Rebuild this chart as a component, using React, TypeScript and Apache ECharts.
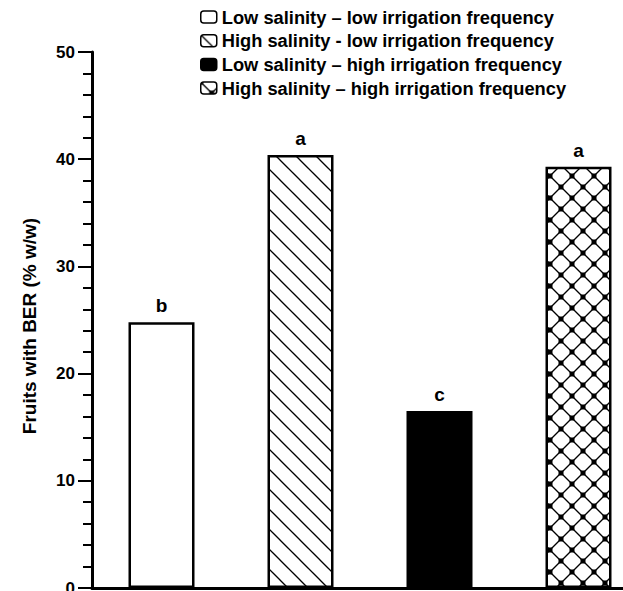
import React, { useEffect, useRef } from "react";
import * as echarts from "echarts";

const categories = ["LS-LI", "HS-LI", "LS-HI", "HS-HI"];
const seriesNames = [
  "Low salinity – low irrigation frequency",
  "High salinity - low irrigation frequency",
  "Low salinity – high irrigation frequency",
  "High salinity – high irrigation frequency",
];
const values = [24.8, 40.4, 16.5, 39.3];
const letters = ["b", "a", "c", "a"];
const yTicks = [0, 10, 20, 30, 40, 50];

const FONT = '"Liberation Sans", Arial, sans-serif';

function makeTile(kind: string, s: number): HTMLCanvasElement {
  const c = document.createElement("canvas");
  c.width = s;
  c.height = s;
  const ctx = c.getContext("2d")!;
  ctx.fillStyle = "#fff";
  ctx.fillRect(0, 0, s, s);
  ctx.strokeStyle = "#000";
  ctx.lineWidth = 1.3;
  const line = (x1: number, y1: number, x2: number, y2: number) => {
    ctx.beginPath();
    ctx.moveTo(x1, y1);
    ctx.lineTo(x2, y2);
    ctx.stroke();
  };
  const h = s / 2;
  line(-h, -h, s + h, s + h);
  line(h, -h, s + h, h);
  line(-h, h, h, s + h);
  if (kind === "lattice") {
    line(s + h, -h, -h, s + h);
    line(h, -h, -h, h);
    line(s + h, h, h, s + h);
    ctx.fillStyle = "#000";
    const d = 5;
    ctx.fillRect(h - d / 2, h - d / 2, d, d);
    for (const [cx, cy] of [[0, 0], [s, 0], [0, s], [s, s]]) {
      ctx.fillRect(cx - d / 2, cy - d / 2, d, d);
    }
  }
  return c;
}

export default function App() {
  const ref = useRef<HTMLDivElement>(null);
  useEffect(() => {
    if (!ref.current) return;
    const chart = echarts.init(ref.current, undefined, { renderer: "svg" });
    const pat = (kind: string, s: number) => ({
      image: makeTile(kind, s),
      imageWidth: s,
      imageHeight: s,
      repeat: "repeat",
    });
    const fills: any[] = ["#ffffff", pat("diag", 20), "#000000", pat("lattice", 22)];

    const series = seriesNames.map((name, i) => ({
      name,
      type: "bar",
      barWidth: 66,
      barGap: "-100%",
      data: values.map((v, j) => (j === i ? v : "-")),
      itemStyle: { color: fills[i], borderColor: "#000", borderWidth: 2.5 },
      label: {
        show: true,
        position: "top",
        distance: 7,
        formatter: () => letters[i],
        color: "#000",
        fontFamily: FONT,
        fontWeight: "bold",
        fontSize: 19,
      },
    }));

    chart.setOption({
      animation: false,
      backgroundColor: "#fff",
      grid: { left: 92, top: 52, right: 0, bottom: 3, outerBoundsMode: "none", containLabel: false },
      legend: {
        orient: "vertical",
        left: 195,
        top: 3,
        itemWidth: 16,
        itemHeight: 12,
        itemGap: 5.7,
        data: seriesNames,
        textStyle: {
          color: "#000",
          fontFamily: FONT,
          fontWeight: "bold",
          fontSize: 18.3,
          lineHeight: 18,
        },
        itemStyle: { borderColor: "#000", borderWidth: 1.5 },
      },
      xAxis: {
        type: "category",
        data: categories,
        axisLine: { lineStyle: { color: "#000", width: 3 } },
        axisTick: { show: false },
        axisLabel: { show: false },
      },
      yAxis: {
        type: "value",
        min: yTicks[0],
        max: yTicks[yTicks.length - 1],
        interval: 10,
        name: "Fruits with BER (% w/w)",
        nameLocation: "middle",
        nameGap: 53,
        nameTextStyle: {
          color: "#000",
          fontFamily: FONT,
          fontWeight: "bold",
          fontSize: 19,
          padding: [0, 12, 0, 0],
        },
        axisLine: { show: true, lineStyle: { color: "#000", width: 3 } },
        axisTick: { show: true, length: 14, lineStyle: { color: "#000", width: 2 } },
        minorTick: { show: true, splitNumber: 5, length: 9, lineStyle: { color: "#000", width: 2 } },
        splitLine: { show: false },
        axisLabel: {
          margin: 17,
          color: "#000",
          fontFamily: FONT,
          fontWeight: "bold",
          fontSize: 17,
        },
      },
      series,
    });
    return () => chart.dispose();
  }, []);
  return (
    <div style={{ width: 623, height: 591, position: "absolute", left: 0, top: 0, overflow: "hidden", background: "#fff" }}>
      <div ref={ref} style={{ width: 648, height: 591 }} />
    </div>
  );
}
